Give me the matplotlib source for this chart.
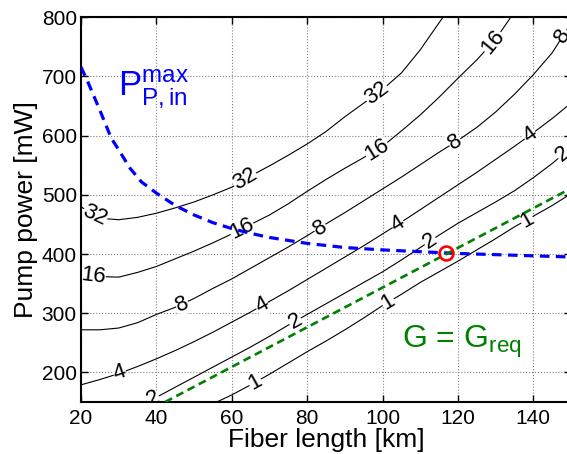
import numpy as np
import matplotlib
matplotlib.use('Agg')
from matplotlib import pyplot as plt

# contour lines of the gain (fiber length [km], pump power [mW])
L32 = [20, 23, 26, 30, 35, 40, 45, 50, 55, 60, 65, 70, 75, 80, 85, 90, 95, 100, 105, 110, 116]
P32 = [480, 467, 460, 458, 462, 469, 478, 488, 500, 513, 532, 549, 567, 586, 607, 632, 655, 678, 706, 745, 800]

L16 = [20, 25, 30, 35, 40, 45, 50, 55, 60, 65, 70, 75, 80, 85, 90, 95, 100, 105, 110, 115, 120, 125, 130, 134]
P16 = [366, 362, 361, 369, 379, 392, 405, 419, 434, 450, 466, 485, 506, 526, 545, 563, 582, 608, 635, 665, 697, 728, 763, 800]

L8 = [20, 25, 30, 35, 40, 45, 50, 55, 60, 65, 70, 75, 80, 85, 90, 95, 100, 105, 110, 115, 120, 125, 130, 135, 140, 145, 150]
P8 = [272, 272, 275, 284, 298, 310, 325, 342, 358, 376, 394, 412, 431, 451, 470, 490, 510, 530, 551, 572, 592, 614, 640, 670, 703, 740, 790]

L4 = [20, 25, 30, 35, 40, 45, 50, 55, 60, 65, 70, 75, 80, 85, 90, 95, 100, 105, 110, 115, 120, 125, 130, 135, 140, 145, 150]
P4 = [179, 188, 198, 210, 223, 237, 252, 268, 285, 302, 320, 338, 357, 376, 395, 414, 434, 454, 475, 496, 517, 538, 560, 582, 605, 629, 655]

L2 = [37, 40, 45, 50, 55, 60, 65, 70, 75, 80, 85, 90, 95, 100, 105, 110, 115, 120, 125, 130, 135, 140, 145, 150]
P2 = [150, 158, 175, 192, 209, 226, 243, 261, 280, 298, 316, 334, 352, 370, 390, 411, 432, 452, 470, 488, 507, 529, 553, 580]

L1 = [56, 60, 65, 70, 75, 80, 85, 90, 95, 100, 105, 110, 115, 120, 125, 130, 135, 140, 145, 150]
P1 = [150, 162, 179, 197, 216, 235, 253, 272, 292, 313, 332, 352, 370, 388, 407, 426, 446, 464, 482, 502]

gain_levels = ['32', '16', '8', '4', '2', '1']
contour_L = [L32, L16, L8, L4, L2, L1]
contour_P = [P32, P16, P8, P4, P2, P1]
# where the inline labels sit along each contour (fiber length)
label_L = [[23.7, 63.5, 98.5],
           [23.2, 62.7, 98.5, 129.3],
           [46.8, 83.4, 119.2, 147.9],
           [30.3, 68.0, 104.1, 139.1],
           [39.1, 76.8, 112.6, 147.9],
           [66.2, 101.5, 138.3]]

# maximum input pump power
L_max = [20, 22, 25, 28, 30, 33, 36, 40, 45, 50, 55, 60, 65, 70, 80, 90, 100, 110, 120, 130, 140, 150]
P_max = [716, 688, 643, 596, 576, 545, 522, 503, 482, 466, 453, 443, 435, 428, 418, 411, 407, 404, 401, 399, 397, 395]

# required gain line
L_req = [42.3, 150]
P_req = [150, 511]

# operating point
L_op = [116.9]
P_op = [401]

plt.rcParams['font.family'] = ['Liberation Sans', 'DejaVu Sans']
plt.rcParams['mathtext.fontset'] = 'custom'
plt.rcParams['mathtext.rm'] = 'Liberation Sans'
plt.rcParams['mathtext.it'] = 'Liberation Sans'

fig = plt.figure(figsize=[5.67, 4.54], dpi=100)
ax = fig.add_axes([0.1429, 0.1145, 0.8642, 0.8474])
ax.set_xlim(20, 150)
ax.set_ylim(150, 800)

ax.grid(True, linestyle=':', color='0.5', linewidth=0.8)
ax.set_axisbelow(True)

for L, P in zip(contour_L, contour_P):
    ax.plot(L, P, color='black', linewidth=0.8, zorder=2)

# inline contour labels, kept under the spines
for level, L, P, spots in zip(gain_levels, contour_L, contour_P, label_L):
    for xl in spots:
        yl = np.interp(xl, L, P)
        p0 = ax.transData.transform((xl - 2, np.interp(xl - 2, L, P)))
        p1 = ax.transData.transform((xl + 2, np.interp(xl + 2, L, P)))
        ang = np.degrees(np.arctan2(p1[1] - p0[1], p1[0] - p0[0]))
        ax.text(xl, yl, level, rotation=ang, rotation_mode='anchor',
                ha='center', va='center', fontsize=16, zorder=2.2, clip_on=True,
                bbox=dict(facecolor='white', edgecolor='none', pad=0.2))

ax.plot(L_max, P_max, color='blue', linewidth=2.3, dashes=(3, 2), zorder=4)
ax.plot(L_req, P_req, color=(0, 0.5, 0), linewidth=1.9, dashes=(3, 1.8), zorder=4)
ax.plot(L_op, P_op, 'o', markersize=10, markerfacecolor='none',
        markeredgecolor='red', markeredgewidth=1.9, zorder=5)

ax.text(29.8, 668, r'$\mathrm{P}_{\mathrm{P,in}}^{\mathrm{max}}$', color='blue', fontsize=25)
ax.text(105.2, 241, r'G = G$_{\mathrm{req}}$', color=(0, 0.5, 0), fontsize=23)

ax.set_xticks([20, 40, 60, 80, 100, 120, 140])
ax.set_yticks([200, 300, 400, 500, 600, 700, 800])
ax.tick_params(direction='in', length=5, width=1, labelsize=15, top=True, right=True)
ax.tick_params(axis='x', pad=5)
ax.tick_params(axis='y', pad=3)
for s in ax.spines.values():
    s.set_linewidth(1.5)

ax.set_xlabel('Fiber length [km]', fontsize=19, labelpad=0)
ax.set_ylabel('Pump power [mW]', fontsize=19, labelpad=3)

plt.savefig('out.png', dpi=100)
